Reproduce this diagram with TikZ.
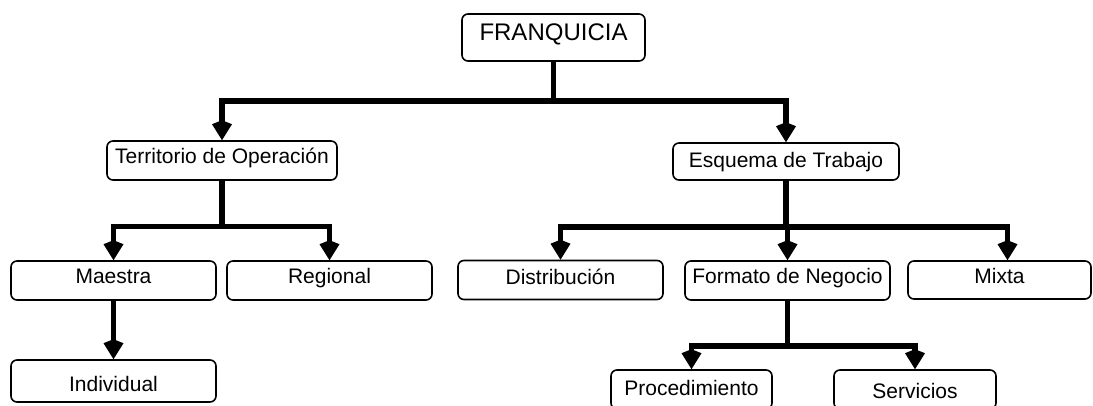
\documentclass[tikz,border=0pt]{standalone}
\usepackage{fontspec}
\setmainfont{Liberation Sans}
\usetikzlibrary{arrows.meta,calc}
\begin{document}
\begin{tikzpicture}[x=1pt,y=-1pt,
  box/.style={draw=black, line width=1.6pt, rounded corners=6pt, inner sep=0pt, fill=white,
    font=\fontsize{21}{25}\selectfont, text height=15pt, text depth=9pt,
    minimum width=205pt, minimum height=39pt},
  link/.style={line width=5.6pt},
  arrow/.style={link, -{Kite[length=20pt,width=20pt,inset=4pt]}}]
\useasboundingbox (0,0) rectangle (1093,405);
\fill[white] (0,0) rectangle (1093,405);
\clip (0,0) rectangle (1093,405);

% root
\node[box, minimum width=183pt, minimum height=47pt, font=\fontsize{24}{28}\selectfont,
      text height=17.5pt, text depth=12pt] (fr) at (553.5,37.5) {FRANQUICIA};

% second level
\node[box, minimum width=230pt] (ter) at (222,160.5) {Territorio de Operación};
\node[box, minimum width=226pt, minimum height=37pt, text depth=4pt] (esq) at (786,161.5) {Esquema de Trabajo};

% third level
\node[box] (mae) at (113.5,280.5) {Maestra};
\node[box] (reg) at (329.5,280.5) {Regional};
\node[box, minimum height=42pt, text height=21pt, text depth=0pt] (ind) at (113.5,381) {Individual};
\node[box, text depth=6.5pt] (dis) at (560.5,280) {Distribución};
\node[box] (fmt) at (787.5,280.5) {Formato de Negocio};
\node[box, minimum width=183pt, minimum height=38pt] (mix) at (999.5,280) {Mixta};

% fourth level
\node[box, minimum width=161pt, text depth=2.5pt] (pro) at (691.5,389.5) {Procedimiento};
\node[box, minimum width=162pt, text height=17pt, text depth=0pt] (ser) at (915,389.5) {Servicios};

% junctions
\coordinate (j0) at ($(fr.south)+(0,39)$);
\coordinate (j1) at ($(ter.south)+(0,45.5)$);
\coordinate (j2) at ($(esq.south)+(0,46)$);
\coordinate (j3) at ($(fmt.south)+(0,45)$);
\coordinate (mixin) at ([xshift=8pt]mix.north);

% connectors
\draw[link] (fr.south) -- (j0);
\draw[arrow] (j0) -| (ter.north);
\draw[arrow] (j0) -| (esq.north);

\draw[link] (ter.south) -- (j1);
\draw[arrow] (j1) -| (mae.north);
\draw[arrow] (j1) -| (reg.north);
\draw[arrow] (mae.south) -- (ind.north);

\draw[link] (esq.south) -- (j2);
\draw[arrow] (j2) -| (dis.north);
\draw[arrow] (j2) -| (fmt.north);
\draw[arrow] (j2) -| (mixin);

\draw[link] (fmt.south) -- (j3);
\draw[arrow] (j3) -| (pro.north);
\draw[arrow] (j3) -| (ser.north);
\end{tikzpicture}
\end{document}
